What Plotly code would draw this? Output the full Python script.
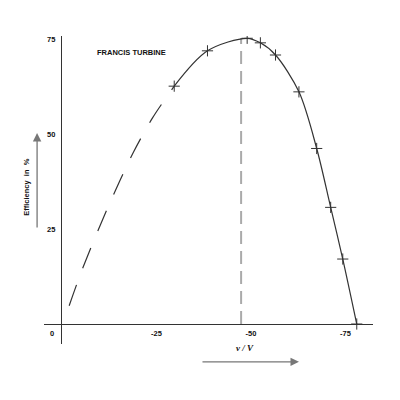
import plotly.graph_objects as go

# measured points (x is v/V, plotted on a reversed axis)
meas_x = [-29.7, -38.5, -49.0, -52.5, -56.5, -62.7, -67.4, -71.1, -74.3, -78.0]
meas_y = [62.6, 71.9, 75.2, 74.0, 70.8, 61.1, 46.2, 30.7, 17.1, 0.0]

# extrapolated (dashed) part of the curve
extrap_x = [-1.9, -5.4, -12.0, -18.9, -24.0, -29.7]
extrap_y = [4.8, 14.5, 30.4, 45.2, 54.3, 62.6]

# best efficiency point
peak_x = -47.4
peak_y = 75.3

x_ticks = [-25, -50, -75]
y_ticks = [25, 50, 75]

ink = '#333333'
font_main = dict(family='Liberation Sans, Arial, sans-serif', size=7.5, color='#111111', weight='bold')

fig = go.Figure()

# dashed extrapolation
fig.add_trace(go.Scatter(
    x=extrap_x, y=extrap_y, mode='lines',
    line=dict(color=ink, width=1.2, dash='22px,18px', shape='spline', smoothing=0.8),
    hoverinfo='skip'
))

# vertical line at the peak
fig.add_trace(go.Scatter(
    x=[peak_x, peak_x], y=[0, peak_y], mode='lines',
    line=dict(color='#aaaaaa', width=2, dash='13px,7px'),
    hoverinfo='skip'
))

# solid curve through the measured points
fig.add_trace(go.Scatter(
    x=meas_x, y=meas_y, mode='lines+markers',
    line=dict(color=ink, width=1.2, shape='spline', smoothing=0.9),
    marker=dict(symbol='cross-thin-open', size=8, line=dict(color='#666666', width=1)),
))

# page body has an 8px margin, so margins are shifted to compensate
fig.update_layout(
    width=400, height=400,
    margin=dict(l=36, r=35, t=28, b=64),
    plot_bgcolor='white', paper_bgcolor='white',
    showlegend=False,
    font=font_main,
)

fig.update_xaxes(
    range=[4.76, -82.3],
    tickvals=x_ticks, ticktext=[str(v) for v in x_ticks],
    ticklabelposition='inside', ticks='', ticklabelstandoff=4,
    ticklabeloverflow='allow',
    showgrid=False, showline=False,
    zeroline=True, zerolinecolor=ink, zerolinewidth=1,
    tickfont=font_main,
)
fig.update_yaxes(
    range=[-5.26, 75.8],
    tickvals=y_ticks, ticktext=[str(v) for v in y_ticks],
    ticklabelposition='inside', ticks='',
    ticklabeloverflow='allow',
    showgrid=False, showline=False,
    zeroline=True, zerolinecolor=ink, zerolinewidth=1,
    tickfont=font_main,
)

annotations = [
    dict(text='FRANCIS TURBINE', x=-18.3, y=71.4, xref='x', yref='y', showarrow=False, font=font_main),
    dict(text='0', x=0, y=-2.6, xref='x', yref='y', xshift=-10, showarrow=False, font=font_main),
    # axis titles
    dict(text='Efficiency  in  %', x=-0.043, y=0.51, xref='paper', yref='paper', textangle=-90,
         xanchor='center', xshift=-3, showarrow=False, font=font_main),
    dict(text='<i>v / V</i>', x=0.611, y=-0.036, xref='paper', yref='paper', showarrow=False,
         font=dict(family='Liberation Serif, serif', size=9, color='#111111')),
    # arrows next to the titles
    dict(text='', x=-0.021, y=0.685, xref='paper', yref='paper', ax=0, ay=96,
         showarrow=True, arrowhead=2, arrowsize=1.3, arrowwidth=1.3, arrowcolor='#777777'),
    dict(text='', x=0.775, y=-0.058, xref='paper', yref='paper', ax=-98, ay=0,
         showarrow=True, arrowhead=2, arrowsize=1.3, arrowwidth=1.3, arrowcolor='#777777'),
]
fig.update_layout(annotations=annotations)

fig.write_html('out.html')
